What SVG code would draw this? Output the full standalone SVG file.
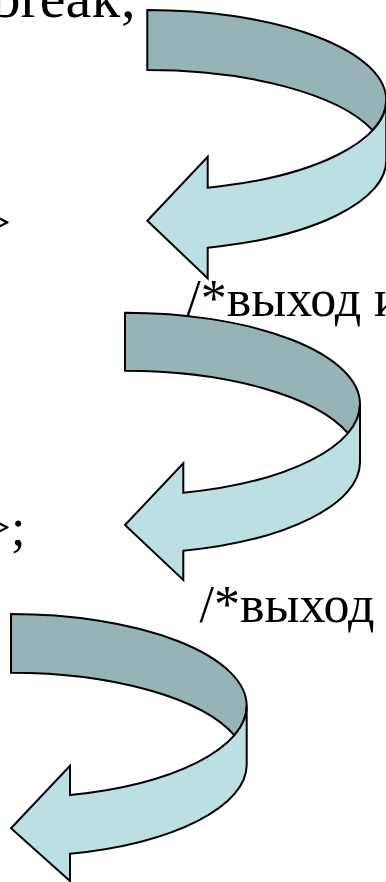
<svg xmlns="http://www.w3.org/2000/svg" width="386" height="882" viewBox="0 0 386 882">
<style>
  .txt { font-family: "Liberation Serif", "Times New Roman", serif; fill: #000; }
  .back { fill: #96B3B6; stroke: #000; stroke-width: 2; stroke-linejoin: miter; }
  .front { fill: #BBE0E3; stroke: #000; stroke-width: 2; stroke-linejoin: miter; }
</style>
<rect width="386" height="882" fill="#fff"/>
<g id="texts">
  <text class="txt" x="-8.6" y="16.5" font-size="58">break;</text>
  <text class="txt" x="-18.3" y="240" font-size="52">&gt;</text>
  <text class="txt" x="186.2" y="316" font-size="52">/*выход и</text>
  <text class="txt" x="-18.3" y="545" font-size="52">&gt;;</text>
  <text class="txt" x="199.5" y="621.7" font-size="52">/*выход</text>
</g>
<g id="arrow1" transform="translate(147.3,10)">
  <path class="back" d="M0,0 A239,90.3 0 0 1 239,90.3 A239,90.3 0 0 1 225.4,120.3 A239,90.3 0 0 0 0,60 Z"/>
  <path class="front" d="M60.4,237.67 A239,90.3 0 0 0 239,150.3 L239,90.3 A239,90.3 0 0 1 60.4,177.67 L60.4,146.7 L0,210.7 L60.4,268.3 Z"/>
</g>
<g id="arrow2" transform="translate(125,312.7)">
  <path class="back" d="M0,0 A235,91.5 0 0 1 235,91.5 A235,91.5 0 0 1 222.9,120.5 A235,91.5 0 0 0 0,58 Z"/>
  <path class="front" d="M58.3,238.14 A235,91.5 0 0 0 235,149.5 L235,91.5 A235,91.5 0 0 1 58.3,180.14 L58.3,150.6 L0,212.3 L58.3,267.3 Z"/>
</g>
<g id="arrow3" transform="translate(11,614)">
  <path class="back" d="M0,0 A235.7,92 0 0 1 235.7,92 A235.7,92 0 0 1 223.4,121.35 A235.7,92 0 0 0 0,58.7 Z"/>
  <path class="front" d="M59,239.77 A235.7,92 0 0 0 235.7,150.7 L235.7,92 A235.7,92 0 0 1 59,181.07 L59,151.7 L0,214.3 L59,267 Z"/>
</g>
</svg>
